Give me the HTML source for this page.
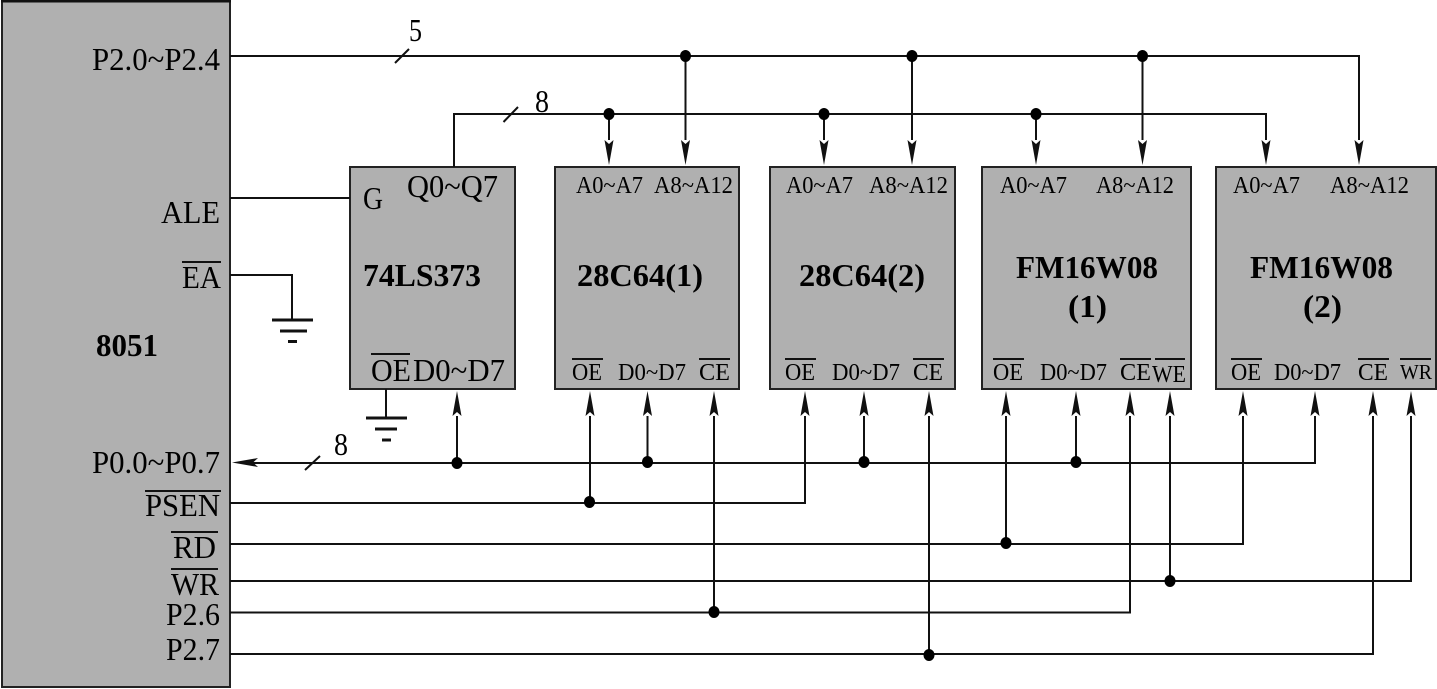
<!DOCTYPE html>
<html><head><meta charset="utf-8"><style>
html,body{margin:0;padding:0;background:#fff;width:1437px;height:689px;overflow:hidden}
svg{display:block}
text{font-family:"Liberation Serif",serif;fill:#000}
.l{font-size:32px}.s{font-size:24px}.b{font-size:32px;font-weight:bold}
.box{fill:#b0b0b0;stroke:#222;stroke-width:2}
.w{fill:none;stroke:#111;stroke-width:2}
.o{stroke:#111;stroke-width:2;fill:none}
</style></head><body>
<svg width="1437" height="689" viewBox="0 0 1437 689" xmlns="http://www.w3.org/2000/svg">
<rect class="box" x="2" y="1" width="228" height="686"/>
<line x1="1" y1="1" x2="231" y2="1" stroke="#111" stroke-width="3"/>
<rect class="box" x="350" y="167" width="165" height="222"/>
<rect class="box" x="555" y="167" width="184" height="222"/>
<rect class="box" x="770" y="167" width="185" height="222"/>
<rect class="box" x="982" y="167" width="209" height="222"/>
<rect class="box" x="1216" y="167" width="220" height="222"/>

<!-- address buses -->
<path class="w" d="M230 56H1359V140"/>
<path class="w" d="M685.500 56V140M912 56V140M1142.500 56V140"/>
<path class="w" d="M454 167V114H1266V140"/>
<path class="w" d="M609 114V140M824 114V140M1036 114V140"/>
<path class="o" d="M395 63L409 49M503.500 122L518 107M305 470L320 456"/>
<!-- down arrows -->
<g fill="#111">
<path d="M609 165L604.500 140L609 144L613.500 140Z"/>
<path d="M685.500 165L681 140L685.500 144L690 140Z"/>
<path d="M824 165L819.500 140L824 144L828.500 140Z"/>
<path d="M912 165L907.500 140L912 144L916.500 140Z"/>
<path d="M1036 165L1031.500 140L1036 144L1040.500 140Z"/>
<path d="M1142.500 165L1138 140L1142.500 144L1147 140Z"/>
<path d="M1266 165L1261.500 140L1266 144L1270.500 140Z"/>
<path d="M1359 165L1354.500 140L1359 144L1363.500 140Z"/>
</g>
<!-- control -->
<path class="w" d="M230 198H350"/>
<path class="w" d="M230 275H292V320"/>
<path class="w" style="stroke-width:3" d="M272 320H313"/>
<path class="w" style="stroke-width:3" d="M280 331H307M288 341.500H297"/>
<path class="w" d="M386 389V418"/>
<path class="w" style="stroke-width:3" d="M366 418H407M375 429H397M382 440H391"/>
<!-- P0 bus -->
<path class="w" d="M250 463H1315V416"/>
<path class="w" d="M457 463V416M647.500 463V416M864 463V416M1076 463V416"/>
<path class="w" d="M230 503H805V416"/>
<path class="w" d="M590 503V416"/>
<path class="w" d="M230 544H1243V416"/>
<path class="w" d="M1006 544V416"/>
<path class="w" d="M230 581H1411V416"/>
<path class="w" d="M1170 581V416"/>
<path class="w" d="M230 612.500H1130V416"/>
<path class="w" d="M714 612.500V416"/>
<path class="w" d="M230 654H1373V416"/>
<path class="w" d="M929 654V416"/>
<!-- up arrows -->
<g fill="#111">
<path d="M457 391L452.500 416L457 412L461.500 416Z"/>
<path d="M590 391L585.500 416L590 412L594.500 416Z"/>
<path d="M647.500 391L643 416L647.500 412L652 416Z"/>
<path d="M714 391L709.500 416L714 412L718.500 416Z"/>
<path d="M805 391L800.500 416L805 412L809.500 416Z"/>
<path d="M864 391L859.500 416L864 412L868.500 416Z"/>
<path d="M929 391L924.500 416L929 412L933.500 416Z"/>
<path d="M1006 391L1001.500 416L1006 412L1010.500 416Z"/>
<path d="M1076 391L1071.500 416L1076 412L1080.500 416Z"/>
<path d="M1130 391L1125.500 416L1130 412L1134.500 416Z"/>
<path d="M1170 391L1165.500 416L1170 412L1174.500 416Z"/>
<path d="M1243 391L1238.500 416L1243 412L1247.500 416Z"/>
<path d="M1315 391L1310.500 416L1315 412L1319.500 416Z"/>
<path d="M1373 391L1368.500 416L1373 412L1377.500 416Z"/>
<path d="M1411 391L1406.500 416L1411 412L1415.500 416Z"/>
<path d="M232 462.500L258 458L253 462.500L258 467Z"/>
</g>
<!-- dots -->
<g fill="#000">
<ellipse cx="685.500" cy="56" rx="5.500" ry="6"/><ellipse cx="912" cy="56" rx="5.500" ry="6"/><ellipse cx="1142.500" cy="56" rx="5.500" ry="6"/>
<ellipse cx="609" cy="114" rx="5.500" ry="6"/><ellipse cx="824" cy="114" rx="5.500" ry="6"/><ellipse cx="1036" cy="114" rx="5.500" ry="6"/>
<ellipse cx="457" cy="463" rx="5.500" ry="6"/><ellipse cx="647.500" cy="462" rx="5.500" ry="6"/><ellipse cx="864" cy="462" rx="5.500" ry="6"/><ellipse cx="1076" cy="462" rx="5.500" ry="6"/>
<ellipse cx="589.500" cy="502" rx="5.500" ry="6"/><ellipse cx="1006" cy="543" rx="5.500" ry="6"/><ellipse cx="1170" cy="581" rx="5.500" ry="6"/>
<ellipse cx="714" cy="612" rx="5.500" ry="6"/><ellipse cx="929" cy="655" rx="5.500" ry="6"/>
</g>

<!-- 8051 labels -->
<text class="l" x="92" y="70" textLength="128" lengthAdjust="spacingAndGlyphs">P2.0~P2.4</text>
<text class="l" x="161" y="223" textLength="59" lengthAdjust="spacingAndGlyphs">ALE</text>
<text class="l" x="182" y="288" textLength="39" lengthAdjust="spacingAndGlyphs">EA</text>
<text class="b" x="96" y="356" textLength="62" lengthAdjust="spacingAndGlyphs">8051</text>
<text class="l" x="92" y="473" textLength="128" lengthAdjust="spacingAndGlyphs">P0.0~P0.7</text>
<text class="l" x="145" y="516" textLength="75" lengthAdjust="spacingAndGlyphs">PSEN</text>
<text class="l" x="173" y="558" textLength="43" lengthAdjust="spacingAndGlyphs">RD</text>
<text class="l" x="171" y="595" textLength="48" lengthAdjust="spacingAndGlyphs">WR</text>
<text class="l" x="166" y="625" textLength="54" lengthAdjust="spacingAndGlyphs">P2.6</text>
<text class="l" x="166" y="660" textLength="54" lengthAdjust="spacingAndGlyphs">P2.7</text>
<path class="o" d="M182 262H221M145 491H221M171 532H218M171 569H218"/>
<!-- bus labels -->
<text class="l" x="409" y="41" textLength="13" lengthAdjust="spacingAndGlyphs">5</text>
<text class="l" x="535" y="112" textLength="14" lengthAdjust="spacingAndGlyphs">8</text>
<text class="l" x="334" y="455" textLength="14" lengthAdjust="spacingAndGlyphs">8</text>
<!-- 74LS373 -->
<text class="l" x="363" y="209" textLength="20" lengthAdjust="spacingAndGlyphs">G</text>
<text class="l" x="407" y="197" textLength="91" lengthAdjust="spacingAndGlyphs">Q0~Q7</text>
<text class="b" x="363" y="286" textLength="118" lengthAdjust="spacingAndGlyphs">74LS373</text>
<text class="l" x="371" y="381" textLength="40" lengthAdjust="spacingAndGlyphs">OE</text>
<text class="l" x="413" y="381" textLength="92" lengthAdjust="spacingAndGlyphs">D0~D7</text>
<path class="o" d="M371 354H410"/>
<!-- 28C64(1) -->
<text class="s" x="576" y="193" textLength="67" lengthAdjust="spacingAndGlyphs">A0~A7</text>
<text class="s" x="654" y="193" textLength="79" lengthAdjust="spacingAndGlyphs">A8~A12</text>
<text class="b" x="577" y="286" textLength="126" lengthAdjust="spacingAndGlyphs">28C64(1)</text>
<text class="s" x="572" y="380" textLength="30" lengthAdjust="spacingAndGlyphs">OE</text>
<text class="s" x="618" y="380" textLength="68" lengthAdjust="spacingAndGlyphs">D0~D7</text>
<text class="s" x="699" y="380" textLength="31" lengthAdjust="spacingAndGlyphs">CE</text>
<path class="o" d="M572 359H603M699 359H730"/>
<!-- 28C64(2) -->
<text class="s" x="786" y="193" textLength="67" lengthAdjust="spacingAndGlyphs">A0~A7</text>
<text class="s" x="869" y="193" textLength="79" lengthAdjust="spacingAndGlyphs">A8~A12</text>
<text class="b" x="799" y="286" textLength="126" lengthAdjust="spacingAndGlyphs">28C64(2)</text>
<text class="s" x="785" y="380" textLength="30" lengthAdjust="spacingAndGlyphs">OE</text>
<text class="s" x="832" y="380" textLength="68" lengthAdjust="spacingAndGlyphs">D0~D7</text>
<text class="s" x="913" y="380" textLength="30" lengthAdjust="spacingAndGlyphs">CE</text>
<path class="o" d="M785 359H816M913 359H944"/>
<!-- FM1 -->
<text class="s" x="1000" y="193" textLength="67" lengthAdjust="spacingAndGlyphs">A0~A7</text>
<text class="s" x="1096" y="193" textLength="78" lengthAdjust="spacingAndGlyphs">A8~A12</text>
<text class="b" x="1016" y="278" textLength="142" lengthAdjust="spacingAndGlyphs">FM16W08</text>
<text class="b" x="1068" y="317" textLength="39" lengthAdjust="spacingAndGlyphs">(1)</text>
<text class="s" x="993" y="380" textLength="30" lengthAdjust="spacingAndGlyphs">OE</text>
<text class="s" x="1040" y="380" textLength="67" lengthAdjust="spacingAndGlyphs">D0~D7</text>
<text class="s" x="1120" y="380" textLength="31" lengthAdjust="spacingAndGlyphs">CE</text>
<text class="s" x="1152" y="382" textLength="34" lengthAdjust="spacingAndGlyphs">WE</text>
<path class="o" d="M993 359H1024M1120 359H1151M1155 359H1185"/>
<!-- FM2 -->
<text class="s" x="1233" y="193" textLength="67" lengthAdjust="spacingAndGlyphs">A0~A7</text>
<text class="s" x="1330" y="193" textLength="79" lengthAdjust="spacingAndGlyphs">A8~A12</text>
<text class="b" x="1250" y="278" textLength="143" lengthAdjust="spacingAndGlyphs">FM16W08</text>
<text class="b" x="1303" y="317" textLength="39" lengthAdjust="spacingAndGlyphs">(2)</text>
<text class="s" x="1231" y="380" textLength="30" lengthAdjust="spacingAndGlyphs">OE</text>
<text class="s" x="1274" y="380" textLength="67" lengthAdjust="spacingAndGlyphs">D0~D7</text>
<text class="s" x="1358" y="380" textLength="30" lengthAdjust="spacingAndGlyphs">CE</text>
<text class="s" x="1400" y="379" textLength="32" lengthAdjust="spacingAndGlyphs" style="font-size:21px">WR</text>
<path class="o" d="M1231 359H1262M1358 359H1389M1400 359H1431"/>
</svg>
</body></html>
